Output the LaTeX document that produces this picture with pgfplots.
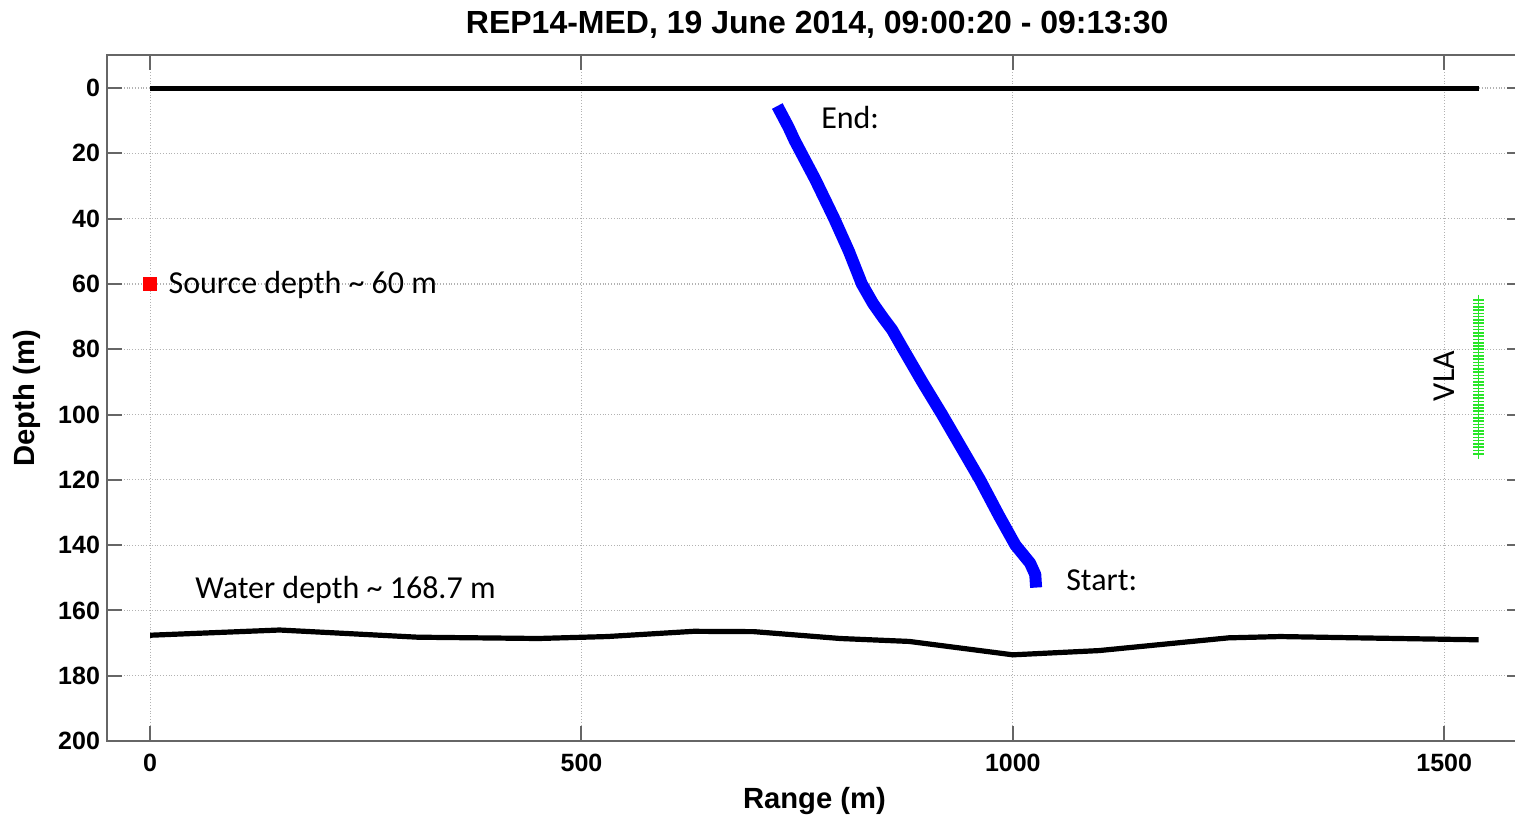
\documentclass[border=0pt]{standalone}
\usepackage{fontspec}
\setmainfont{Liberation Sans}
\newfontfamily\calibri{Carlito}
\usepackage{pgfplots}
\pgfplotsset{compat=1.18}

\begin{document}
\begin{tikzpicture}
\begin{axis}[
  scale only axis,
  width=707.4pt, height=342.8pt,
  at={(0,0)}, anchor=south west,
  xmin=-50, xmax=1590,
  ymin=-10, ymax=200,
  y dir=reverse,
  xtick={0,500,1000,1500},
  ytick={0,20,...,200},
  tick align=inside,
  xtick pos=both, ytick pos=both,
  major tick length=7.5pt,
  axis line style={draw=black!60, line width=1pt},
  every tick/.style={draw=black!60, line width=1pt},
  grid=major,
  grid style={densely dotted, draw=black!30, line width=0.6pt},
  /pgf/number format/assume math mode=true,
  /pgf/number format/1000 sep={},
  tick label style={font=\fontsize{12.5}{14}\selectfont\bfseries},
  xticklabel style={yshift=-3pt},
  title={REP14-MED, 19 June 2014, 09:00:20 - 09:13:30},
  every axis title/.style={at={(axis description cs:0.502,1.045)}, anchor=center, font=\fontsize{16}{18}\selectfont\bfseries},
  xlabel={Range (m)},
  ylabel={Depth (m)},
  every axis x label/.style={at={(axis description cs:0.5,-0.087)}, anchor=center, font=\fontsize{14.6}{16}\selectfont\bfseries},
  every axis y label/.style={at={(axis description cs:-0.0566,0.5)}, rotate=90, anchor=center, font=\fontsize{14.6}{16}\selectfont\bfseries},
]
% sea surface
\addplot[black, line width=2.5pt, no marks] coordinates {(0,0) (1540,0)};
% sea floor
\addplot[black, line width=2.6pt, no marks, line join=round] coordinates {
  (0,167.6) (150,166.0) (310,168.2) (450,168.6) (530,168.0) (630,166.4)
  (700,166.5) (800,168.6) (880,169.5) (1000,173.6) (1100,172.3)
  (1250,168.4) (1310,168.0) (1400,168.4) (1540,169.0)};
% source track
\addplot[blue, line width=6pt, no marks, line join=round] coordinates {
  (1027,153) (1026,149) (1020,145.5) (1003,140) (984,131) (962,120)
  (940,110) (918,100) (895,90) (873,80) (860,74) (850,70.5) (838,66)
  (825,60) (810,50) (793,40) (771,28) (755,20) (747,16) (740,12) (727,5.5)};
% source
\addplot[only marks, mark=square*, mark size=3.2pt, red] coordinates {(0,60)};
% vertical line array
\addplot[only marks, mark=+, mark size=2.8pt, color={rgb,255:red,40;green,230;blue,40}, mark options={line width=0.8pt}] coordinates {
  (1540,65) (1540,66) (1540,67) (1540,68) (1540,69) (1540,70) (1540,71) (1540,72)
  (1540,73) (1540,74) (1540,75) (1540,76) (1540,77) (1540,78) (1540,79) (1540,80)
  (1540,81) (1540,82) (1540,83) (1540,84) (1540,85) (1540,86) (1540,87) (1540,88)
  (1540,89) (1540,90) (1540,91) (1540,92) (1540,93) (1540,94) (1540,95) (1540,96)
  (1540,97) (1540,98) (1540,99) (1540,100) (1540,101) (1540,102) (1540,103) (1540,104)
  (1540,105) (1540,106) (1540,107) (1540,108) (1540,109) (1540,110) (1540,111) (1540,112)};
\node[anchor=base west, inner sep=0pt, font=\calibri\fontsize{16}{18}\selectfont] at (axis cs:777.5,12.3) {End:};
\node[anchor=base west, inner sep=0pt, font=\calibri\fontsize{16}{18}\selectfont] at (axis cs:1061.5,153.8) {Start:};
\node[anchor=base west, inner sep=0pt, font=\calibri\fontsize{16}{18}\selectfont] at (axis cs:52,156.2) {Water depth \textasciitilde\ 168.7 m};
\node[anchor=base west, inner sep=0pt, font=\calibri\fontsize{16}{18}\selectfont] at (axis cs:21,62.8) {Source depth \textasciitilde\ 60 m};
\node[anchor=base, rotate=90, inner sep=0pt, font=\calibri\fontsize{16}{18}\selectfont] at (axis cs:1512,88.2) {VLA};
\end{axis}
\pgfresetboundingbox
\path (-53.5pt,-37.5pt) rectangle (704pt,370.5pt);
\end{tikzpicture}
\end{document}
